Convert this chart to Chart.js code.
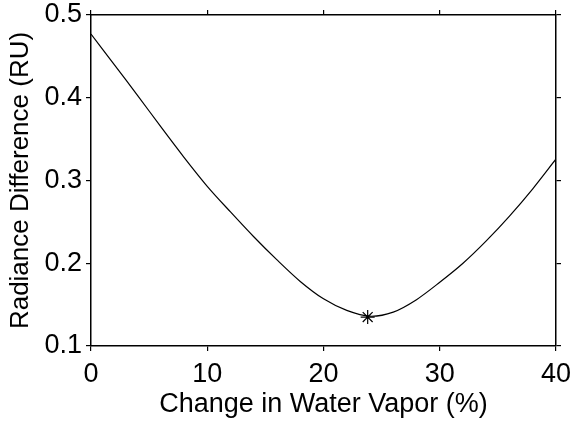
<!DOCTYPE html>
<html>
<head>
<meta charset="utf-8">
<script src="https://cdn.jsdelivr.net/npm/chart.js@4"></script>
<style>
  html, body { margin: 0; padding: 0; background: #fff; }
  canvas { display: block; }
</style>
</head>
<body>
<canvas id="chart" width="573" height="421"></canvas>
<script>
// values
const waterVapor = [0, 2, 4, 6, 8, 10, 12, 14, 16, 18, 20, 22, 24, 26, 28, 30, 32, 34, 36, 38, 40];
const radianceDiff = [0.477, 0.440, 0.403, 0.365, 0.328, 0.293, 0.262, 0.232, 0.204, 0.178, 0.157,
    0.143, 0.136, 0.141, 0.156, 0.177, 0.200, 0.227, 0.257, 0.290, 0.326];
const minVapor = [23.8];
const minRadiance = [0.135];

const xTickStep = 10;
const yTickStep = 0.1;

const FONT = 'Liberation Sans, Arial, sans-serif';

const curve = waterVapor.map((x, i) => ({x: x, y: radianceDiff[i]}));
const minimum = minVapor.map((x, i) => ({x: x, y: minRadiance[i]}));

// outward ticks, no grid inside the plot
function frameGrid() {
    return {
        display: true,
        drawOnChartArea: false,
        drawTicks: true,
        tickLength: 5,
        color: '#000',
        lineWidth: 1.2
    };
}

new Chart(document.getElementById('chart'), {
    type: 'scatter',
    data: {
        datasets: [{
            data: curve,
            showLine: true,
            borderColor: '#000',
            borderWidth: 1.2,
            pointRadius: 0,
            tension: 0.3,
            fill: false
        }, {
            data: minimum,
            showLine: false,
            pointStyle: 'star',
            pointRadius: 7,
            borderColor: '#000',
            borderWidth: 1.2,
            backgroundColor: '#000'
        }]
    },
    options: {
        responsive: false,
        animation: false,
        devicePixelRatio: 1,
        layout: {padding: 0},
        plugins: {
            legend: {display: false},
            tooltip: {enabled: false}
        },
        scales: {
            x: {
                type: 'linear',
                position: 'bottom',
                min: 0,
                max: 40,
                grid: frameGrid(),
                border: {display: true, color: '#000', width: 1.5},
                ticks: {
                    stepSize: xTickStep,
                    color: '#000',
                    padding: 7,
                    maxRotation: 0,
                    font: {family: FONT, size: 27}
                },
                title: {
                    display: true,
                    text: 'Change in Water Vapor (%)',
                    color: '#000',
                    padding: {top: 0, bottom: 0},
                    font: {family: FONT, size: 27}
                },
                // let the "40" label hang past the frame like the original
                afterFit: (axis) => {
                    axis.height = 75;
                    axis.paddingLeft = 0;
                    axis.paddingRight = 0;
                }
            },
            x2: {
                type: 'linear',
                position: 'top',
                min: 0,
                max: 40,
                grid: frameGrid(),
                border: {display: true, color: '#000', width: 1.5},
                ticks: {stepSize: xTickStep, display: false},
                afterFit: (axis) => {
                    axis.height = 15;
                    axis.paddingLeft = 0;
                    axis.paddingRight = 0;
                }
            },
            y: {
                type: 'linear',
                position: 'left',
                min: 0.1,
                max: 0.5,
                grid: frameGrid(),
                border: {display: true, color: '#000', width: 1.5},
                ticks: {
                    stepSize: yTickStep,
                    color: '#000',
                    padding: 4,
                    font: {family: FONT, size: 27},
                    callback: (v) => v.toFixed(1)
                },
                title: {
                    display: true,
                    text: 'Radiance Difference (RU)',
                    color: '#000',
                    padding: {top: 5, bottom: 0},
                    font: {family: FONT, size: 26}
                },
                afterFit: (axis) => {
                    axis.width = 91;
                    axis.paddingTop = 0;
                    axis.paddingBottom = 0;
                }
            },
            y2: {
                type: 'linear',
                position: 'right',
                min: 0.1,
                max: 0.5,
                grid: frameGrid(),
                border: {display: true, color: '#000', width: 1.5},
                ticks: {stepSize: yTickStep, display: false},
                afterFit: (axis) => {
                    axis.width = 17;
                    axis.paddingTop = 0;
                    axis.paddingBottom = 0;
                }
            }
        }
    }
});
</script>
</body>
</html>
